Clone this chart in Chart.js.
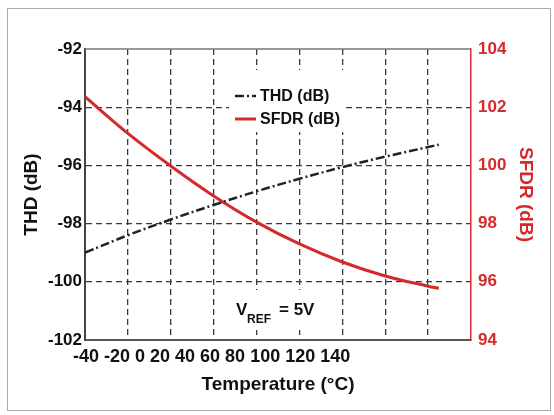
<!DOCTYPE html>
<html>
<head>
<meta charset="utf-8">
<script src="https://cdn.jsdelivr.net/npm/chart.js@4/dist/chart.umd.min.js"></script>
<style>
  html, body { margin: 0; padding: 0; background: #fff; }
</style>
</head>
<body>
<canvas id="chart" width="554" height="415"></canvas>
<script>
// temperature points (°C)
var temps = [-40, -20, 0, 20, 40, 60, 80, 100, 120, 125];
var thdValues = [-99.0, -98.4, -97.86, -97.36, -96.89, -96.46, -96.06, -95.7, -95.37, -95.29];
var sfdrValues = [102.36, 101.1, 99.98, 98.95, 98.05, 97.3, 96.68, 96.2, 95.85, 95.78];
var xTickLabels = [-40, -20, 0, 20, 40, 60, 80, 100, 120, 140];
var thdTicks = [-102, -100, -98, -96, -94, -92];
var sfdrTicks = [94, 96, 98, 100, 102, 104];

var RED = '#d42a2a';
var FONT = "'Liberation Sans', Arial, sans-serif";
Chart.defaults.font.family = FONT;

function pts(ys) {
  return temps.map(function(t, i) { return {x: t, y: ys[i]}; });
}

// grid lines on the frame edges are hidden, the frame is drawn instead
function gridColor(ends) {
  return function(ctx) {
    if (ctx.tick && ends.indexOf(ctx.tick.value) >= 0) return 'rgba(0,0,0,0)';
    return '#3a3a3a';
  };
}

var decor = {
  id: 'decor',
  beforeDraw: function(chart) {
    var c = chart.ctx;
    c.save();
    c.fillStyle = '#fff';
    c.fillRect(0, 0, chart.width, chart.height);
    c.strokeStyle = '#aaa';
    c.lineWidth = 1;
    c.strokeRect(7.5, 8.5, 543, 402);
    c.restore();
  },
  beforeDatasetsDraw: function(chart) {
    var c = chart.ctx, a = chart.chartArea;
    c.save();
    // white patches behind the legend and the V_REF note
    c.fillStyle = '#fff';
    c.fillRect(229, 70, 117, 62);
    c.fillRect(236, 290, 80, 40);
    // top frame line
    c.strokeStyle = '#777';
    c.lineWidth = 1.5;
    c.beginPath();
    c.moveTo(a.left, a.top);
    c.lineTo(a.right, a.top);
    c.stroke();
    c.restore();
  },
  afterDraw: function(chart) {
    var c = chart.ctx, a = chart.chartArea;
    c.save();
    chart.data.datasets.forEach(function(ds, i) {
      var y = 96 + i * 23;
      c.strokeStyle = ds.borderColor;
      c.lineWidth = ds.borderWidth;
      c.setLineDash(ds.borderDash || []);
      c.beginPath();
      c.moveTo(235, y);
      c.lineTo(256, y);
      c.stroke();
      c.setLineDash([]);
      c.fillStyle = '#111';
      c.font = 'bold 16px ' + FONT;
      c.textBaseline = 'middle';
      c.fillText(ds.label, 260, y + 1);
    });
    // temperature labels are printed as one run of text under the left part of the axis
    c.fillStyle = '#111';
    c.font = 'bold 18px ' + FONT;
    c.textBaseline = 'middle';
    c.fillText(xTickLabels.join(' '), a.left - 12, a.bottom + 17);
    // V_REF = 5V
    c.textBaseline = 'alphabetic';
    c.font = 'bold 17px ' + FONT;
    c.fillText('V', 236, 315);
    c.font = 'bold 12px ' + FONT;
    c.fillText('REF', 247, 323);
    c.font = 'bold 17px ' + FONT;
    c.fillText('= 5V', 279, 315);
    c.restore();
  }
};

new Chart(document.getElementById('chart').getContext('2d'), {
  type: 'line',
  data: {
    datasets: [{
      label: 'THD (dB)',
      data: pts(thdValues),
      xAxisID: 'x',
      yAxisID: 'y',
      borderColor: '#222',
      borderWidth: 2.5,
      borderDash: [9, 3, 2, 3],
      pointRadius: 0,
      tension: 0.4,
      fill: false
    }, {
      label: 'SFDR (dB)',
      data: pts(sfdrValues),
      xAxisID: 'x',
      yAxisID: 'y2',
      borderColor: RED,
      borderWidth: 3,
      pointRadius: 0,
      tension: 0.4,
      fill: false
    }]
  },
  options: {
    responsive: false,
    animation: false,
    layout: { padding: { top: 49, left: 0, right: 0, bottom: 0 } },
    plugins: {
      legend: { display: false },
      tooltip: { enabled: false }
    },
    scales: {
      x: {
        type: 'linear',
        position: 'bottom',
        weight: 0,
        min: xTickLabels[0],
        max: xTickLabels[xTickLabels.length - 1],
        ticks: { display: false, stepSize: 20 },
        grid: { color: gridColor([-40, 140]), lineWidth: 1.3, drawTicks: false },
        border: { display: true, color: '#555', width: 2, dash: [6, 4] },
        afterFit: function(s) { s.height = 0; }
      },
      // holds the axis title; the tick text is printed by the plugin
      xl: {
        type: 'linear',
        position: 'bottom',
        weight: 1,
        min: xTickLabels[0],
        max: xTickLabels[xTickLabels.length - 1],
        ticks: { display: false },
        grid: { display: false, drawTicks: false },
        border: { display: false },
        title: {
          display: true,
          text: 'Temperature (°C)',
          color: '#111',
          font: { size: 19, weight: 'bold' },
          padding: { top: 0, bottom: 19 }
        },
        afterFit: function(s) { s.height = 75; }
      },
      y: {
        type: 'linear',
        position: 'left',
        min: thdTicks[0],
        max: thdTicks[thdTicks.length - 1],
        ticks: {
          stepSize: 2,
          padding: 3,
          color: '#111',
          font: { size: 17, weight: 'bold' }
        },
        grid: { color: gridColor([-102, -92]), lineWidth: 1.3, drawTicks: false },
        border: { display: true, color: '#444', width: 2, dash: [6, 4] },
        title: {
          display: true,
          text: 'THD (dB)',
          color: '#111',
          font: { size: 19, weight: 'bold' },
          padding: { top: 20, bottom: 0 }
        },
        afterFit: function(s) { s.width = 85; }
      },
      y2: {
        type: 'linear',
        position: 'right',
        min: sfdrTicks[0],
        max: sfdrTicks[sfdrTicks.length - 1],
        ticks: {
          stepSize: 2,
          padding: 7,
          color: RED,
          font: { size: 17, weight: 'bold' }
        },
        grid: { display: false, drawTicks: false },
        border: { display: true, color: RED, width: 1.5 },
        title: {
          display: true,
          text: 'SFDR (dB)',
          color: RED,
          font: { size: 19, weight: 'bold' },
          padding: { top: 17, bottom: 0 }
        },
        afterFit: function(s) { s.width = 83; }
      }
    }
  },
  plugins: [decor]
});
</script>
</body>
</html>
